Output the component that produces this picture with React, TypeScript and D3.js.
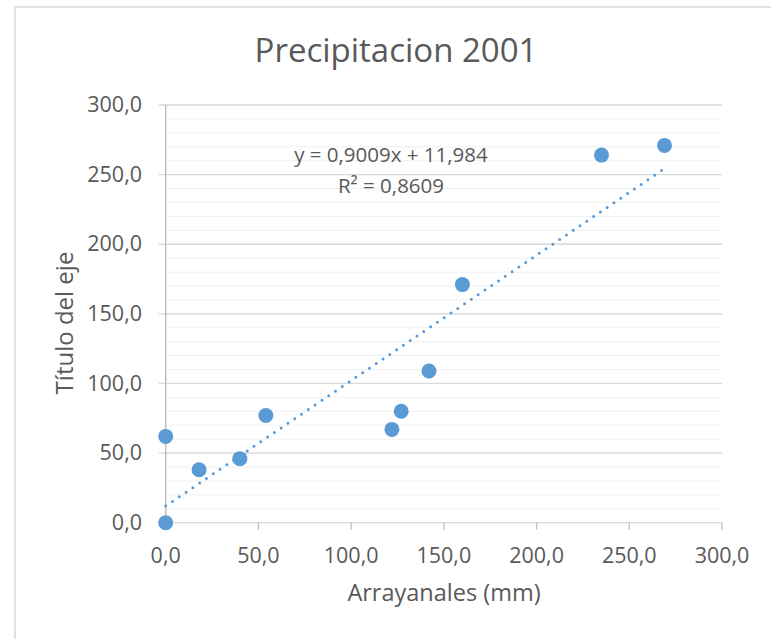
import React from "react";
import * as d3 from "d3";

const xValues = [0, 0, 18, 40, 54, 122, 127, 142, 160, 235, 269];
const yValues = [0, 62, 38, 46, 77, 67, 80, 109, 171, 264, 271];
const xTicks = [0, 50, 100, 150, 200, 250, 300];
const yTicks = [0, 50, 100, 150, 200, 250, 300];
const yMinorTicks = d3.range(0, 301, 10);
const trendSlope = 0.9009;
const trendIntercept = 11.984;
const equationLines = ["y = 0,9009x + 11,984", "R² = 0,8609"];
const chartTitle = "Precipitacion 2001";
const xTitle = "Arrayanales (mm)";
const yTitle = "Título del eje";

const W = 771;
const H = 639;
const FONT = "'Open Sans', sans-serif";
const TEXT = "#595959";
const BLUE = "#5B9BD5";

export default function App() {
  const x = d3.scaleLinear().domain([0, 300]).range([165.7, 722]);
  const y = d3.scaleLinear().domain([0, 300]).range([522.7, 105]);
  const fmt = (v: number) => d3.format(".1f")(v).replace(".", ",");
  const xMax = d3.max(xValues) as number;
  const trend = d3
    .line<number>()
    .x((d) => x(d))
    .y((d) => y(trendSlope * d + trendIntercept));

  return (
    <svg
      width={W}
      height={H}
      style={{ position: "absolute", left: 0, top: 0, background: "#fff" }}
      fontFamily={FONT}
    >
      <rect x={0} y={0} width={W} height={H} fill="#fff" />
      <rect x={15} y={7} width={W + 20} height={H + 20} fill="#fff" stroke="#d9d9d9" strokeWidth={1.5} />
      <text x={396} y={62} textAnchor="middle" fontSize={33} fill={TEXT}>
        {chartTitle}
      </text>
      {yMinorTicks.map((t) => (
        <line
          key={"m" + t}
          x1={x(0)}
          x2={x(300)}
          y1={y(t)}
          y2={y(t)}
          stroke="#f0f0f0"
          strokeWidth={1}
        />
      ))}
      {yTicks.map((t) => (
        <line
          key={"g" + t}
          x1={x(0) - 7}
          x2={x(300)}
          y1={y(t)}
          y2={y(t)}
          stroke="#d9d9d9"
          strokeWidth={1.3}
        />
      ))}
      <line x1={x(0)} x2={x(0)} y1={y(300)} y2={y(0) + 7} stroke="#bfbfbf" strokeWidth={1.5} />
      {xTicks.map((t) => (
        <line key={"xt" + t} x1={x(t)} x2={x(t)} y1={y(0)} y2={y(0) + 7} stroke="#bfbfbf" strokeWidth={1.3} />
      ))}
      {xTicks.map((t) => (
        <text key={"xl" + t} x={x(t)} y={562.7} textAnchor="middle" fontSize={21.5} fill={TEXT}>
          {fmt(t)}
        </text>
      ))}
      {yTicks.map((t) => (
        <text key={"yl" + t} x={142} y={y(t) + 7.2} textAnchor="end" fontSize={21.5} fill={TEXT}>
          {fmt(t)}
        </text>
      ))}
      <path
        d={trend([0, xMax]) || ""}
        fill="none"
        stroke={BLUE}
        strokeWidth={3}
        strokeLinecap="round"
        strokeDasharray="0 8.2"
      />
      {xValues.map((v, i) => (
        <circle key={"p" + i} cx={x(v)} cy={y(yValues[i])} r={7.5} fill={BLUE} />
      ))}
      {equationLines.map((s, i) => (
        <text key={"eq" + i} x={391} y={161.7 + i * 31} textAnchor="middle" fontSize={20.5} fill={TEXT}>
          {s}
        </text>
      ))}
      <text x={444} y={601} textAnchor="middle" fontSize={23.5} fill={TEXT}>
        {xTitle}
      </text>
      <text
        transform={`translate(73,323) rotate(-90)`}
        textAnchor="middle"
        fontSize={24}
        fill={TEXT}
      >
        {yTitle}
      </text>
    </svg>
  );
}
